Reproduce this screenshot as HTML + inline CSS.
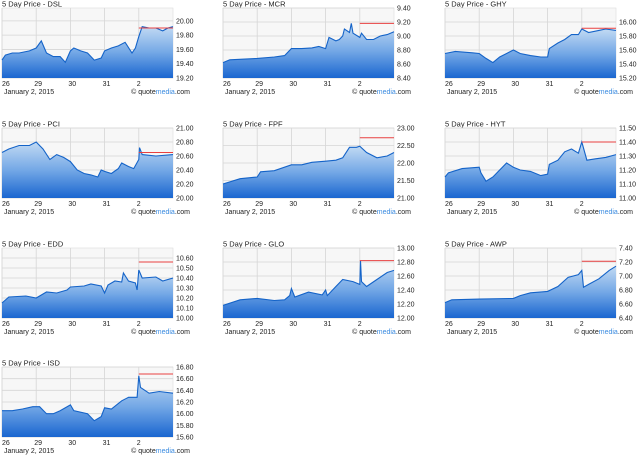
<!DOCTYPE html>
<html><head><meta charset="utf-8">
<style>
html,body{margin:0;padding:0;background:#fff;width:640px;height:456px;overflow:hidden}
svg{display:block;font-family:"Liberation Sans",sans-serif}
</style></head>
<body>
<svg id="c" width="640" height="456" viewBox="0 0 640 456" xmlns="http://www.w3.org/2000/svg">
<defs>
<linearGradient id="fillg" x1="0" y1="0" x2="0" y2="1">
<stop offset="0" stop-color="#c2daf3"/>
<stop offset="0.5" stop-color="#74a8e6"/>
<stop offset="1" stop-color="#1a66d0"/>
</linearGradient>
</defs>
</svg>
<script>
const symbols = ["DSL","MCR","GHY","PCI","FPF","HYT","EDD","GLO","AWP","ISD"];
const dayLabels = ["26","29","30","31","2"];
const yMins = [19.2,8.4,15.2,20.0,21.0,11.0,10.0,12.0,6.4,15.6];
const yMaxs = [20.18,9.4,16.2,21.0,23.0,11.5,10.7,13.0,7.4,16.8];
const tickStart = [19.2,8.4,15.2,20.0,21.0,11.0,10.0,12.0,6.4,15.6];
const tickStep = [0.2,0.2,0.2,0.2,0.5,0.1,0.1,0.2,0.2,0.2];
const tickCount = [5,6,5,6,5,6,7,6,6,7];
const prevClose = [19.90,9.18,15.91,20.65,22.72,11.40,10.56,12.82,7.21,16.68];
const timesDSL=[0,0.1,0.3,0.5,0.8,1.0,1.15,1.3,1.5,1.7,1.85,2.0,2.1,2.3,2.5,2.7,2.9,3.0,3.2,3.4,3.6,3.8,3.9,4.0,4.1,4.3,4.5,4.7,4.85,5.0];
const pricesDSL=[19.45,19.52,19.55,19.55,19.58,19.62,19.72,19.55,19.50,19.50,19.42,19.58,19.62,19.58,19.55,19.45,19.48,19.58,19.62,19.65,19.70,19.55,19.62,19.78,19.92,19.90,19.90,19.86,19.90,19.92];
const timesMCR=[0,0.2,1.0,1.5,1.8,2.0,2.3,2.6,2.8,3.0,3.1,3.3,3.4,3.5,3.55,3.7,3.75,3.8,4.0,4.05,4.2,4.4,4.6,4.8,5.0];
const pricesMCR=[8.62,8.66,8.68,8.70,8.72,8.82,8.82,8.83,8.85,8.82,8.98,8.93,8.95,9.0,9.1,9.05,9.18,9.04,8.98,9.04,8.95,8.95,9.0,9.02,9.06];
const timesGHY=[0,0.3,0.8,1.0,1.2,1.4,1.6,1.8,2.0,2.2,2.5,2.8,3.0,3.05,3.3,3.5,3.7,3.9,4.0,4.2,4.5,4.7,5.0];
const pricesGHY=[15.55,15.58,15.56,15.55,15.48,15.42,15.50,15.55,15.60,15.55,15.52,15.50,15.50,15.62,15.70,15.75,15.82,15.82,15.90,15.85,15.88,15.90,15.88];
const timesPCI=[0,0.2,0.5,0.8,1.0,1.2,1.4,1.6,1.8,2.0,2.2,2.4,2.6,2.8,2.9,3.0,3.2,3.4,3.5,3.7,3.85,4.0,4.02,4.1,4.5,5.0];
const pricesPCI=[20.65,20.70,20.75,20.75,20.80,20.70,20.55,20.62,20.58,20.52,20.40,20.35,20.33,20.30,20.40,20.38,20.35,20.42,20.50,20.45,20.42,20.55,20.72,20.62,20.60,20.62];
const timesFPF=[0,0.5,1.0,1.1,1.5,2.0,2.3,2.6,3.0,3.3,3.5,3.7,3.9,4.0,4.2,4.5,4.8,5.0];
const pricesFPF=[21.4,21.55,21.6,21.75,21.78,21.95,21.95,22.02,22.05,22.08,22.15,22.45,22.45,22.48,22.3,22.15,22.2,22.3];
const timesHYT=[0,0.1,0.5,1.0,1.05,1.2,1.4,1.6,1.8,2.0,2.2,2.5,2.8,3.0,3.05,3.3,3.5,3.7,3.9,4.0,4.15,4.4,4.7,5.0];
const pricesHYT=[11.15,11.18,11.21,11.22,11.18,11.12,11.15,11.20,11.25,11.22,11.20,11.19,11.16,11.17,11.24,11.27,11.33,11.35,11.32,11.40,11.27,11.28,11.29,11.31];
const timesEDD=[0,0.2,0.7,1.0,1.3,1.6,1.9,2.0,2.4,2.6,2.9,3.0,3.1,3.3,3.5,3.55,3.7,3.9,3.95,4.0,4.1,4.5,4.7,5.0];
const pricesEDD=[10.15,10.21,10.22,10.20,10.26,10.25,10.28,10.31,10.32,10.34,10.32,10.25,10.33,10.37,10.36,10.45,10.37,10.35,10.28,10.48,10.40,10.41,10.37,10.40];
const timesGLO=[0,0.5,1.0,1.5,1.8,1.95,2.0,2.1,2.5,2.9,3.0,3.05,3.3,3.5,3.8,4.0,4.02,4.05,4.2,4.5,4.8,5.0];
const pricesGLO=[12.18,12.26,12.28,12.25,12.26,12.32,12.42,12.30,12.37,12.33,12.40,12.32,12.45,12.55,12.52,12.48,12.82,12.52,12.45,12.55,12.65,12.68];
const timesAWP=[0,0.2,1.0,2.0,2.2,2.5,3.0,3.3,3.6,3.9,4.0,4.05,4.2,4.5,4.8,5.0];
const pricesAWP=[6.62,6.66,6.67,6.68,6.72,6.76,6.78,6.85,6.98,7.02,7.08,6.84,6.88,6.96,7.08,7.14];
const timesISD=[0,0.3,0.6,0.9,1.1,1.3,1.5,1.7,2.0,2.1,2.5,2.7,2.9,3.0,3.2,3.5,3.7,3.95,4.0,4.05,4.3,4.6,5.0];
const pricesISD=[16.05,16.05,16.08,16.12,16.12,16.00,16.00,16.05,16.15,16.05,16.00,15.88,15.95,16.10,16.08,16.22,16.28,16.28,16.65,16.45,16.35,16.38,16.35];

const allTimes=[timesDSL,timesMCR,timesGHY,timesPCI,timesFPF,timesHYT,timesEDD,timesGLO,timesAWP,timesISD];
const allPrices=[pricesDSL,pricesMCR,pricesGHY,pricesPCI,pricesFPF,pricesHYT,pricesEDD,pricesGLO,pricesAWP,pricesISD];

const NS="http://www.w3.org/2000/svg";
const svg=document.getElementById('c');
const colX=[2,223,445], rowY=[8,128,248,367];
const W=171,H=70;
function mk(tag,attrs,parent,text){const e=document.createElementNS(NS,tag);for(const k in attrs)e.setAttribute(k,attrs[k]);if(text!==undefined)e.textContent=text;parent.appendChild(e);return e;}

symbols.forEach((sym,i)=>{
  const ox=colX[i%3], oy=rowY[Math.floor(i/3)];
  const g=mk('g',{},svg);
  
  
  const xs=t=>ox+t/5*W;
  const ys=v=>oy+H-(v-yMins[i])/(yMaxs[i]-yMins[i])*H;
  const t=mk('text',{x:ox,y:oy-1.5,'font-size':'7.5',fill:'#222'},g,'5 Day Price - '+sym);
  
  
  const bg=mk('rect',{x:ox,y:oy,width:W,height:H,fill:'#f7f7f7',stroke:'#dddddd','stroke-width':'0.6'},g);
  
  
  for(let d=0;d<5;d++){
    const gl=mk('line',{x1:xs(d),x2:xs(d),y1:oy,y2:oy+H,stroke:'#d6d6d6','stroke-width':'0.8'},g);
    
    
    const lb=mk('text',{x:xs(d)+(d===0?0:-2),y:oy+H+8,'font-size':'7',fill:'#222'},g,dayLabels[d]);
    
    
  }
  for(let k=0;k<tickCount[i];k++){
    const v=tickStart[i]+k*tickStep[i];
    const y=ys(v);
    const gl=mk('line',{x1:ox,x2:ox+W,y1:y,y2:y,stroke:'#d6d6d6','stroke-width':'0.8'},g);
    
    
    const lb=mk('text',{x:ox+W+3,y:y+2.5,'font-size':'7',fill:'#222'},g,v.toFixed(2));
    
    
  }
  const T=allTimes[i],P=allPrices[i];
  let d='M'+xs(T[0])+','+(oy+H);
  let ld='';
  T.forEach((tt,j)=>{d+=' L'+xs(tt).toFixed(1)+','+ys(P[j]).toFixed(1);ld+=(j?' L':'M')+xs(tt).toFixed(1)+','+ys(P[j]).toFixed(1);});
  d+=' L'+xs(T[T.length-1])+','+(oy+H)+' Z';
  const area=mk('path',{d:d,fill:'url(#fillg)'},g);
  
  
  const line=mk('path',{d:ld,fill:'none',stroke:'#1463c8','stroke-width':'1.1'},g);
  
  
  const rl=mk('line',{x1:xs(4),x2:xs(5),y1:ys(prevClose[i]),y2:ys(prevClose[i]),stroke:'#e84040','stroke-width':'1'},g);
  
  
  const dt=mk('text',{x:ox+2,y:oy+H+16,'font-size':'7',fill:'#222'},g,'January 2, 2015');
  
  
  const qm=mk('text',{x:ox+W+17,y:oy+H+16,'font-size':'7','text-anchor':'end',fill:'#222'},g);
  
  
  mk('tspan',{},qm,'© quote');
  mk('tspan',{fill:'#3a8be0'},qm,'media');
  mk('tspan',{},qm,'.com');
});
</script>
</body></html>
